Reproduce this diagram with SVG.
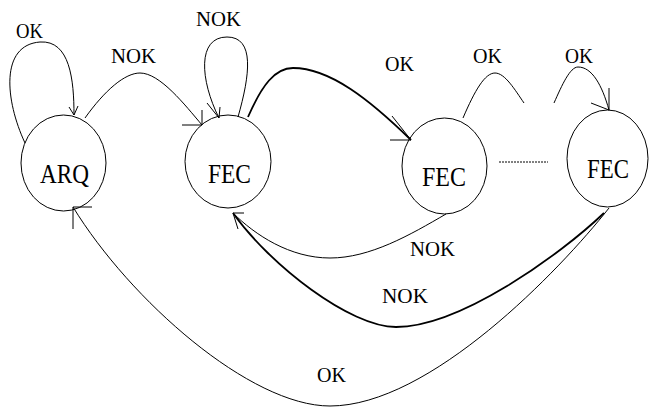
<svg xmlns="http://www.w3.org/2000/svg" width="649" height="408" viewBox="0 0 649 408">
<style>
.node{fill:none;stroke:#000;stroke-width:1}
.c{fill:none;stroke:#000;stroke-width:1}
.ck{fill:none;stroke:#000;stroke-width:1.8}
</style>
<rect width="649" height="408" fill="#fff"/>
<g font-family="Liberation Serif, Times New Roman, serif" font-size="27" fill="#000">
<g id="arq">
<ellipse class="node" cx="63.5" cy="163" rx="42.5" ry="48"/>
<text x="40" y="183" textLength="49" lengthAdjust="spacingAndGlyphs">ARQ</text>
</g>
<g id="fec1">
<ellipse class="node" cx="228" cy="161.5" rx="43" ry="46.5"/>
<text x="208" y="183" textLength="43" lengthAdjust="spacingAndGlyphs">FEC</text>
</g>
<g id="fec2">
<ellipse class="node" cx="444.5" cy="166" rx="42.5" ry="48"/>
<text x="422" y="186" textLength="44" lengthAdjust="spacingAndGlyphs">FEC</text>
</g>
<g id="fec3">
<ellipse class="node" cx="607.5" cy="158.5" rx="40.5" ry="48.5"/>
<text x="587" y="178" textLength="42" lengthAdjust="spacingAndGlyphs">FEC</text>
</g>
</g>
<g id="connectors">
<path class="c" d="M25,143 C5,100 0,45 40,42 C70,40 74,80 74,115"/>
<path class="c" d="M69,107 L74,115 L78,106"/>
<path class="c" d="M85,118 C105,90 125,73 140,73 C160,73 185,105 202,125"/>
<path class="c" d="M182,125 L202,125 L202,110"/>
<path class="c" d="M238,117 C250,75 255,37 227,37 C197,37 200,80 219,118"/>
<path class="c" d="M207,103 L219,118 L220,107"/>
<path class="ck" d="M248,117 C262,85 275,68 293,68 C330,68 370,100 411,140"/>
<path class="c" d="M390,140 L411,140 L392,116"/>
<path class="c" d="M463,118 C475,90 485,73 495,73 C505,73 515,90 524,103"/>
<path class="c" d="M554,103 C562,85 570,67 578,67 C592,67 602,85 609,110"/>
<path class="c" d="M609,88 L609,110 L591,103"/>
<path class="c" d="M499,162 H548" stroke-dasharray="2,1"/>
<path class="c" d="M446,214 C410,235 370,258 330,258 C290,258 255,235 233,213"/>
<path class="ck" d="M604,213 C560,255 460,327 396,327 C350,327 270,265 233,213"/>
<path class="c" d="M244,213 L233,213 L238,229"/>
<path class="c" d="M609,208 C560,270 430,406 330,406 C250,406 130,300 73,207"/>
<path class="c" d="M92,207 L73,207 L73,229"/>
</g>
<g id="labels" font-family="Liberation Serif, Times New Roman, serif" font-size="21" fill="#000">
<text x="16" y="38" textLength="27" lengthAdjust="spacingAndGlyphs">OK</text>
<text x="111" y="63" textLength="45" lengthAdjust="spacingAndGlyphs">NOK</text>
<text x="196" y="26" textLength="45" lengthAdjust="spacingAndGlyphs">NOK</text>
<text x="385" y="71" textLength="29" lengthAdjust="spacingAndGlyphs">OK</text>
<text x="473" y="63" textLength="29" lengthAdjust="spacingAndGlyphs">OK</text>
<text x="565" y="63" textLength="28" lengthAdjust="spacingAndGlyphs">OK</text>
<text x="410" y="256" textLength="45" lengthAdjust="spacingAndGlyphs">NOK</text>
<text x="382" y="303" textLength="46" lengthAdjust="spacingAndGlyphs">NOK</text>
<text x="317" y="382" textLength="29" lengthAdjust="spacingAndGlyphs">OK</text>
</g>
</svg>
